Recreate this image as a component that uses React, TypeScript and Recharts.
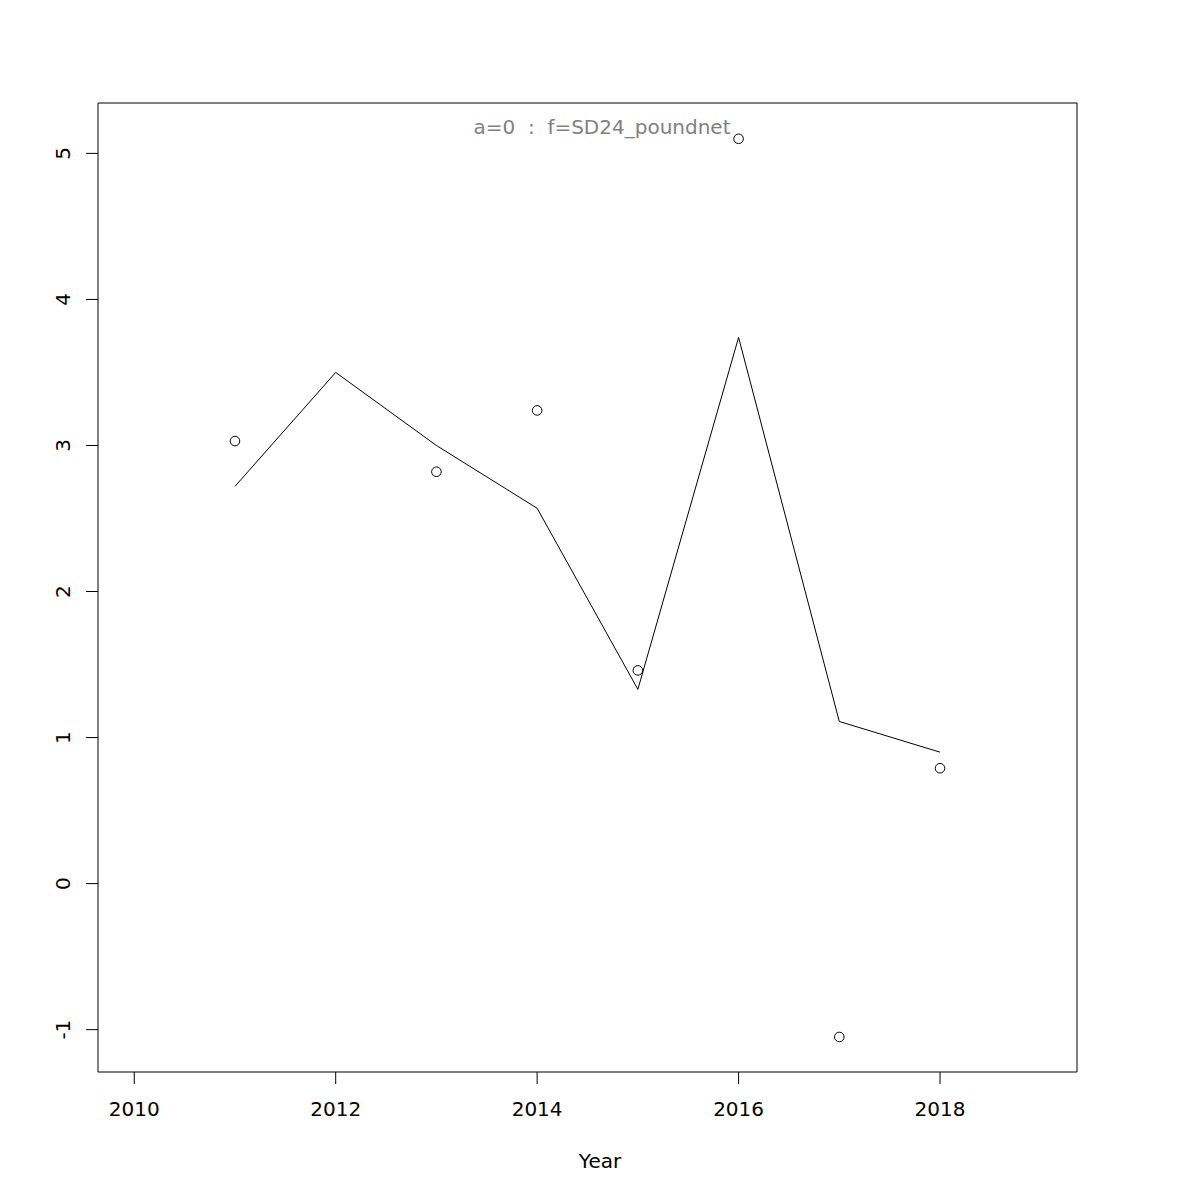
import React from "react";
import {
  ComposedChart,
  Line,
  XAxis,
  YAxis,
  ReferenceArea,
  Customized,
} from "recharts";

// year axis and the two series
const years = [2011, 2012, 2013, 2014, 2015, 2016, 2017, 2018];
const fitted = [2.72, 3.5, 3.0, 2.57, 1.33, 3.74, 1.11, 0.9];
const observed: (number | null)[] = [3.03, null, 2.82, 3.24, 1.46, 5.1, -1.05, 0.79];

const xTicks = [2010, 2012, 2014, 2016, 2018];
const yTicks = [-1, 0, 1, 2, 3, 4, 5];

const xDomain: [number, number] = [2009.64, 2019.36];
const yDomain: [number, number] = [-1.29, 5.345];

const title = "a=0  :  f=SD24_poundnet";
const xLabel = "Year";

const data = years.map((year, i) => ({
  year,
  fit: fitted[i],
  obs: observed[i],
}));

const FONT = "'DejaVu Sans', sans-serif";
const FS = 20;

function XTick(props: any) {
  const { x, y, payload } = props;
  return (
    <text x={x} y={y + 30} textAnchor="middle" fontSize={FS} fontFamily={FONT} fill="#000">
      {payload.value}
    </text>
  );
}

function YTick(props: any) {
  const { x, y, payload } = props;
  return (
    <text
      x={0}
      y={0}
      transform={`translate(${x - 14}, ${y}) rotate(-90)`}
      textAnchor="middle"
      fontSize={FS}
      fontFamily={FONT}
      fill="#000"
    >
      {payload.value}
    </text>
  );
}

export default function App() {
  return (
    <div style={{ position: "absolute", left: 0, top: 0, width: 1200, height: 1200, background: "#fff" }}>
      <ComposedChart
        width={1200}
        height={1200}
        data={data}
        margin={{ top: 103, right: 123, left: 0, bottom: 0 }}
      >
        <XAxis
          dataKey="year"
          type="number"
          domain={xDomain}
          ticks={xTicks}
          allowDataOverflow
          height={128}
          axisLine={false}
          tickSize={12}
          tickLine={{ stroke: "#000", strokeWidth: 1 }}
          tick={<XTick />}
          interval={0}
        />
        <YAxis
          type="number"
          domain={yDomain}
          ticks={yTicks}
          allowDataOverflow
          width={98}
          axisLine={false}
          tickSize={12}
          tickLine={{ stroke: "#000", strokeWidth: 1 }}
          tick={<YTick />}
          interval={0}
        />
        <ReferenceArea
          x1={xDomain[0]}
          x2={xDomain[1]}
          y1={yDomain[0]}
          y2={yDomain[1]}
          fill="none"
          fillOpacity={0}
          stroke="#000"
          strokeWidth={1}
          ifOverflow="visible"
        />
        <Line
          type="linear"
          dataKey="fit"
          stroke="#000"
          strokeWidth={1}
          dot={false}
          activeDot={false}
          isAnimationActive={false}
        />
        <Line
          type="linear"
          dataKey="obs"
          stroke="none"
          dot={{ r: 4.8, fill: "none", stroke: "#000", strokeWidth: 1 }}
          activeDot={false}
          connectNulls={false}
          isAnimationActive={false}
        />
        <Customized
          component={() => (
            <g>
              <text
                x={602}
                y={134}
                textAnchor="middle"
                fontSize={FS}
                fontFamily={FONT}
                fill="#808080"
                style={{ whiteSpace: "pre" }}
              >
                {title}
              </text>
              <text x={600} y={1168} textAnchor="middle" fontSize={FS} fontFamily={FONT} fill="#000">
                {xLabel}
              </text>
            </g>
          )}
        />
      </ComposedChart>
    </div>
  );
}
